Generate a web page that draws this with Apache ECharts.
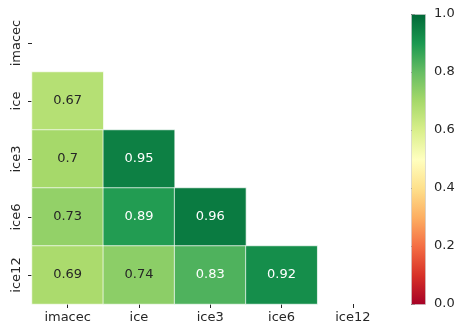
<!DOCTYPE html>
<html>
<head>
<meta charset="utf-8">
<script src="https://cdn.jsdelivr.net/npm/echarts@6/dist/echarts.min.js"></script>
<style>html,body{margin:0;padding:0;background:#fff}#c{width:466px;height:336px}</style>
</head>
<body>
<div id="c"></div>
<script>
var labels = ['imacec', 'ice', 'ice3', 'ice6', 'ice12'];
// lower triangle correlations by row (columns start at imacec)
var rowIce   = [0.67];
var rowIce3  = [0.7, 0.95];
var rowIce6  = [0.73, 0.89, 0.96];
var rowIce12 = [0.69, 0.74, 0.83, 0.92];
var colorbarTicks = [0, 0.2, 0.4, 0.6, 0.8, 1.0];
var rdylgn = ['#a50026','#d73027','#f46d43','#fdae61','#fee08b','#ffffbf','#d9ef8b','#a6d96a','#66bd63','#1a9850','#006837'];

var rows = [null, rowIce, rowIce3, rowIce6, rowIce12];
var data = [];
rows.forEach(function (r, ri) {
  if (!r) return;
  r.forEach(function (v, ci) { data.push([ci, ri, v]); });
});

var font = 'DejaVu Sans';
var fs = 13;
var chart = echarts.init(document.getElementById('c'), null, {renderer: 'canvas'});
chart.setOption({
  animation: false,
  backgroundColor: '#ffffff',
  textStyle: {fontFamily: font},
  grid: [
    {left: 32, top: 14, width: 356.5, height: 290},
    {left: 411, top: 14, width: 14, height: 290}
  ],
  xAxis: [
    {
      type: 'category', data: labels, gridIndex: 0, position: 'bottom',
      axisLine: {show: false},
      axisTick: {show: true, alignWithLabel: true, length: 4, lineStyle: {color: '#262626', width: 1}},
      axisLabel: {color: '#262626', fontSize: fs, fontFamily: font, margin: 7, interval: 0},
      splitLine: {show: false}
    },
    {type: 'value', gridIndex: 1, show: false, min: 0, max: 1}
  ],
  yAxis: [
    {
      type: 'category', data: labels, gridIndex: 0, inverse: true,
      axisLine: {show: false},
      axisTick: {show: true, alignWithLabel: true, length: 4, lineStyle: {color: '#262626', width: 1}},
      axisLabel: {color: '#262626', fontSize: fs, fontFamily: font, rotate: 90, margin: 9, interval: 0},
      splitLine: {show: false}
    },
    {
      type: 'value', gridIndex: 1, min: 0, max: 1, interval: 0.2, position: 'right',
      axisLine: {show: false},
      axisTick: {show: true, length: 4, lineStyle: {color: '#262626', width: 1}},
      axisLabel: {color: '#262626', fontSize: fs, fontFamily: font, margin: 9,
        formatter: function (v) { return v.toFixed(1); }},
      splitLine: {show: false}
    }
  ],
  visualMap: {
    type: 'continuous', min: 0, max: 1, show: false,
    seriesIndex: 0,
    inRange: {color: rdylgn}
  },
  graphic: [{
    type: 'rect', left: 411, top: 14, z: 10,
    shape: {width: 14, height: 290},
    style: {
      fill: new echarts.graphic.LinearGradient(0, 1, 0, 0,
        rdylgn.map(function (c, i) { return {offset: i / (rdylgn.length - 1), color: c}; })),
      stroke: 'rgba(200,200,200,0.6)', lineWidth: 1
    }
  }],
  series: [{
    type: 'heatmap', xAxisIndex: 0, yAxisIndex: 0, data: data,
    itemStyle: {borderColor: 'rgba(255,255,255,0.7)', borderWidth: 1},
    label: {
      show: true,
      formatter: function (p) {
        var v = p.value[2];
        return (v > 0.8 ? '{w|' : '{d|') + String(v) + '}';
      },
      rich: {
        w: {color: '#ffffff', fontSize: 13, fontFamily: font},
        d: {color: '#262626', fontSize: 13, fontFamily: font}
      }
    },
    emphasis: {disabled: true}
  }]
});
</script>
</body>
</html>
